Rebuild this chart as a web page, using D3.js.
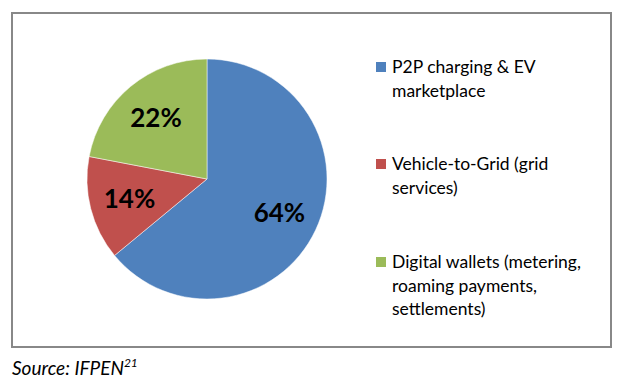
<!DOCTYPE html>
<html>
<head>
<meta charset="utf-8">
<script src="https://cdn.jsdelivr.net/npm/d3@7"></script>
<style>
  body { margin: 0; background: #fff; }
  svg text { font-family: Lato, "Open Sans", sans-serif; }
</style>
</head>
<body>
<div id="chart"></div>
<script>
"use strict";

// chart data
const categories = ["P2P charging & EV marketplace", "Vehicle-to-Grid (grid services)", "Digital wallets (metering, roaming payments, settlements)"];
const values = [64, 14, 22];
const legendLines = [
    ["P2P charging & EV", "marketplace"],
    ["Vehicle-to-Grid (grid", "services)"],
    ["Digital wallets (metering,", "roaming payments,", "settlements)"]
];
const colors = ["#4F81BD", "#C0504D", "#9BBB59"];

const width = 628, height = 386;

const svg = d3.select("#chart").append("svg")
    .attr("width", width)
    .attr("height", height);

// outer frame
svg.append("rect")
    .attr("x", 12).attr("y", 13)
    .attr("width", 599).attr("height", 334)
    .attr("fill", "#fff")
    .attr("stroke", "#888")
    .attr("stroke-width", 2);

// pie
const radius = 120;
const pie = d3.pie().sort(null).value(d => d);
const arc = d3.arc().innerRadius(0).outerRadius(radius);
const labelArc = d3.arc().innerRadius(80).outerRadius(80);

const g = svg.append("g")
    .attr("transform", "translate(207,179)");

const slices = g.selectAll("g.slice")
    .data(pie(values))
    .enter().append("g")
    .attr("class", "slice");

slices.append("path")
    .attr("d", arc)
    .attr("fill", (d, i) => colors[i])
    .attr("stroke", "#fff")
    .attr("stroke-width", 0.5);

slices.append("text")
    .attr("transform", d => "translate(" + labelArc.centroid(d) + ")")
    .attr("text-anchor", "middle")
    .attr("dy", "0.36em")
    .attr("font-size", 26)
    .attr("font-weight", "bold")
    .attr("fill", "#000")
    .text(d => d.data + "%");

// legend
const legendY = [67, 164, 262];
const legend = svg.append("g");

legendLines.forEach((lines, i) => {
    const lg = legend.append("g")
        .attr("transform", "translate(376," + legendY[i] + ")");
    lg.append("rect")
        .attr("x", 0).attr("y", -5)
        .attr("width", 10).attr("height", 10)
        .attr("fill", colors[i]);
    lg.append("text")
        .attr("font-size", 17.5)
        .attr("fill", "#000")
        .selectAll("tspan")
        .data(lines)
        .enter().append("tspan")
        .attr("x", 16)
        .attr("y", (d, j) => j * 23.5)
        .attr("dy", "0.35em")
        .text(d => d);
});

// source note
const src = svg.append("text")
    .attr("x", 12).attr("y", 375)
    .attr("font-size", 19)
    .attr("font-style", "italic")
    .attr("fill", "#000");
src.append("tspan").text("Source: IFPEN");
src.append("tspan")
    .attr("font-size", 12)
    .attr("dy", -8)
    .text("21");
</script>
</body>
</html>
